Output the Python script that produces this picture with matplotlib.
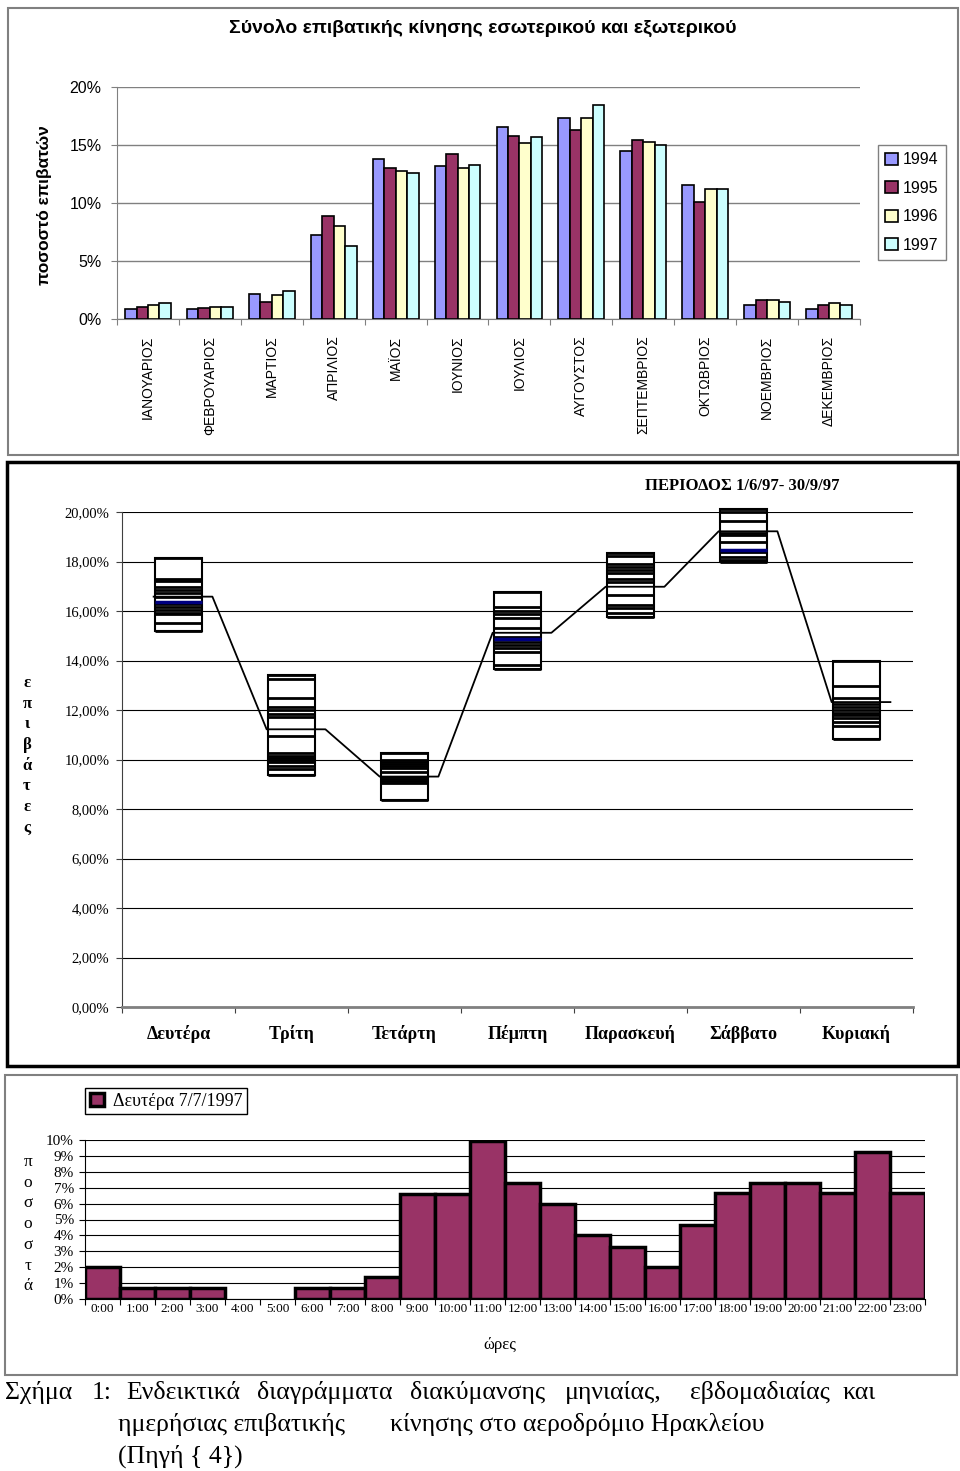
import numpy as np
import matplotlib.pyplot as plt
from matplotlib.patches import Rectangle

SANS = 'Liberation Sans'
SERIF = 'Liberation Serif'
W, H = 960, 1471

# --- monthly share of passengers, 1994-1997 (%)
months = ['ΙΑΝΟΥΑΡΙΟΣ', 'ΦΕΒΡΟΥΑΡΙΟΣ', 'ΜΑΡΤΙΟΣ', 'ΑΠΡΙΛΙΟΣ', 'ΜΑΪΟΣ', 'ΙΟΥΝΙΟΣ',
          'ΙΟΥΛΙΟΣ', 'ΑΥΓΟΥΣΤΟΣ', 'ΣΕΠΤΕΜΒΡΙΟΣ', 'ΟΚΤΩΒΡΙΟΣ', 'ΝΟΕΜΒΡΙΟΣ', 'ΔΕΚΕΜΒΡΙΟΣ']
years = ['1994', '1995', '1996', '1997']
share_1994 = [0.83, 0.83, 2.13, 7.27, 13.82, 13.16, 16.58, 17.36, 14.48, 11.58, 1.21, 0.83]
share_1995 = [1.06, 0.95, 1.47, 8.85, 13.02, 14.20, 15.78, 16.32, 15.40, 10.11, 1.61, 1.21]
share_1996 = [1.21, 1.06, 2.10, 8.05, 12.79, 13.02, 15.14, 17.36, 15.26, 11.18, 1.61, 1.35]
share_1997 = [1.35, 1.06, 2.39, 6.32, 12.61, 13.28, 15.66, 18.42, 15.00, 11.18, 1.47, 1.21]
year_colors = ['#9999FF', '#993366', '#FFFFCC', '#CCFFFF']

# --- weekly share per weekday, period 1/6/97 - 30/9/97 (%)
days = ['Δευτέρα', 'Τρίτη', 'Τετάρτη', 'Πέμπτη', 'Παρασκευή', 'Σάββατο', 'Κυριακή']
day_mean = [16.58, 11.22, 9.31, 15.12, 16.98, 19.22, 12.32]
week_mon = [18.13, 17.28, 17.21, 16.98, 16.85, 16.71, 16.55, 16.36, 16.28, 16.15,
            16.04, 15.90, 15.87, 15.50, 15.20]
week_tue = [13.41, 13.25, 12.47, 12.13, 12.00, 11.84, 11.73, 10.95, 10.25, 10.15,
            10.07, 9.98, 9.91, 9.74, 9.60, 9.37]
week_wed = [10.26, 10.00, 9.91, 9.82, 9.74, 9.64, 9.51, 9.28, 9.20, 9.12, 9.04, 8.36]
week_thu = [16.76, 16.15, 16.01, 15.88, 15.70, 15.30, 14.96, 14.87, 14.76, 14.63,
            14.49, 14.33, 13.82, 13.66]
week_fri = [18.36, 18.24, 17.90, 17.76, 17.66, 17.55, 17.28, 17.18, 16.65, 16.24,
            16.11, 15.90, 15.76]
week_sat = [20.11, 20.01, 19.65, 19.16, 19.07, 18.80, 18.46, 18.40, 18.19, 18.06, 17.98]
week_sun = [13.98, 12.97, 12.47, 12.23, 12.11, 12.00, 11.89, 11.80, 11.66, 11.53,
            11.35, 10.82]
weekly = [week_mon, week_tue, week_wed, week_thu, week_fri, week_sat, week_sun]
marked_days = [0, 3, 5]
marked_values = [16.36, 14.87, 18.46]

# --- hourly share, Monday 7/7/1997 (%)
hours = ['0:00', '1:00', '2:00', '3:00', '4:00', '5:00', '6:00', '7:00', '8:00', '9:00',
         '10:00', '11:00', '12:00', '13:00', '14:00', '15:00', '16:00', '17:00', '18:00',
         '19:00', '20:00', '21:00', '22:00', '23:00']
hour_share = [2.0, 0.69, 0.69, 0.69, 0, 0, 0.69, 0.69, 1.4, 6.6, 6.6, 9.93, 7.27, 5.97,
              4.03, 3.29, 2.03, 4.65, 6.65, 7.27, 7.27, 6.65, 9.27, 6.65]


def box(x0, y0, x1, y1):
    # pixel box (top-left origin) -> figure fraction rect
    return [x0 / W, 1 - y1 / H, (x1 - x0) / W, (y1 - y0) / H]


def fx(x):
    return x / W


def fy(y):
    return 1 - y / H


def frame(x0, y0, x1, y1, color, lw):
    fig.add_artist(Rectangle((fx(x0), fy(y1)), (x1 - x0) / W, (y1 - y0) / H,
                             transform=fig.transFigure, fill=False,
                             edgecolor=color, linewidth=lw))


fig = plt.figure(figsize=(W / 100, H / 100), dpi=100)
fig.patch.set_facecolor('white')

# ---------------- top chart: monthly ----------------
frame(8, 8, 958, 455, '#808080', 1.5)
ax1 = fig.add_axes(box(117, 87, 860, 319))
x = np.arange(len(months))
bw = 0.185
series = [share_1994, share_1995, share_1996, share_1997]
for k, (vals, col, yr) in enumerate(zip(series, year_colors, years)):
    ax1.bar(x + (k - 1.5) * bw, vals, bw, color=col, edgecolor='black',
            linewidth=1.2, label=yr, zorder=3)
ax1.set_xlim(-0.5, 11.5)
ax1.set_ylim(0, 20)
ax1.set_yticks([0, 5, 10, 15, 20])
ax1.set_yticklabels(['0%', '5%', '10%', '15%', '20%'], fontsize=11.5, family=SANS)
ax1.yaxis.grid(True, color='#808080', linewidth=1)
ax1.set_axisbelow(True)
for s in ['top', 'right']:
    ax1.spines[s].set_visible(False)
ax1.spines['left'].set_color('#808080')
ax1.spines['bottom'].set_color('#808080')
ax1.tick_params(axis='y', color='#808080', labelcolor='black', length=4, pad=7)
ax1.set_xticks(np.arange(-0.5, 12, 1))
ax1.set_xticklabels([])
ax1.tick_params(axis='x', which='major', length=4, color='#808080')
ax1.set_xticks(x, minor=True)
ax1.set_xticklabels(months, minor=True, rotation=90, fontsize=10, family=SANS, va='top')
ax1.tick_params(axis='x', which='minor', length=0, pad=12)
ax1.legend(loc='upper left', bbox_to_anchor=(fx(878), fy(145)),
           bbox_transform=fig.transFigure, fancybox=False, edgecolor='#808080',
           framealpha=1, borderaxespad=0, prop={'family': SANS, 'size': 11.5},
           handlelength=0.8, handleheight=0.8, handletextpad=0.3,
           labelspacing=0.85, borderpad=0.45)
fig.text(fx(483), fy(28), 'Σύνολο επιβατικής κίνησης εσωτερικού και εξωτερικού',
         ha='center', va='center', fontsize=14, weight='bold', family=SANS)
fig.text(fx(45), fy(205), 'ποσοστό επιβατών', rotation=90, ha='center', va='center',
         fontsize=12.5, weight='bold', family=SANS)

# ---------------- middle chart: weekdays ----------------
frame(7, 462, 958, 1066, 'black', 2.5)
ax2 = fig.add_axes(box(122, 512, 913, 1007))
xd = np.arange(len(days))
lows = np.array([min(w) for w in weekly])
highs = np.array([max(w) for w in weekly])
ax2.bar(xd, highs - lows, bottom=lows, width=0.41, color='white',
        edgecolor='black', linewidth=1.5, zorder=3, clip_on=False)
for i, w in enumerate(weekly):
    ax2.hlines(w, i - 0.205, i + 0.205, color='black', linewidth=2, zorder=4,
               clip_on=False)
ax2.hlines(marked_values, np.array(marked_days) - 0.205, np.array(marked_days) + 0.205,
           color='#000080', linewidth=2.5, zorder=5)
xs = np.ravel([[i - 0.22, i + 0.30] for i in xd])
ys = np.repeat(day_mean, 2)
ax2.plot(xs, ys, color='black', linewidth=1.3, zorder=6)
ax2.set_xlim(-0.5, 6.5)
ax2.set_ylim(0, 20)
yt = np.arange(0, 21, 2)
ax2.set_yticks(yt)
ax2.set_yticklabels([f'{v:.2f}%'.replace('.', ',') for v in yt], fontsize=10.5, family=SERIF)
ax2.yaxis.grid(True, color='black', linewidth=0.8)
ax2.set_axisbelow(True)
for s in ['top', 'right']:
    ax2.spines[s].set_visible(False)
ax2.spines['left'].set_color('#404040')
ax2.spines['bottom'].set_color('#808080')
ax2.spines['bottom'].set_linewidth(2)
ax2.tick_params(axis='y', length=4, pad=5, color='#404040')
ax2.set_xticks(np.arange(-0.5, 7, 1))
ax2.set_xticklabels([])
ax2.tick_params(axis='x', which='major', length=4, color='#404040')
ax2.set_xticks(xd, minor=True)
ax2.set_xticklabels(days, minor=True, fontsize=13, weight='bold', family=SERIF)
ax2.tick_params(axis='x', which='minor', length=0, pad=13)
fig.text(fx(742), fy(486), 'ΠΕΡΙΟΔΟΣ 1/6/97- 30/9/97', ha='center', va='center',
         fontsize=12, weight='bold', family=SERIF)
for i, ch in enumerate('επιβάτες'):
    fig.text(fx(27), fy(683 + i * 20.7), ch, ha='center', va='center',
             fontsize=12, weight='bold', family=SERIF)

# ---------------- bottom chart: hourly ----------------
frame(5, 1075, 957, 1375, '#808080', 1.5)
ax3 = fig.add_axes(box(85, 1140, 925, 1299))
xh = np.arange(len(hours))
bars = ax3.bar(xh, hour_share, width=1.0, color='#993366', edgecolor='black',
               linewidth=2.5, zorder=3, label='Δευτέρα 7/7/1997')
for b, v in zip(bars, hour_share):
    if v == 0:
        b.set_linewidth(0)
ax3.set_xlim(-0.5, 23.5)
ax3.set_ylim(0, 10)
ax3.set_yticks(range(11))
ax3.set_yticklabels([f'{v}%' for v in range(11)], fontsize=11, family=SERIF)
ax3.yaxis.grid(True, color='black', linewidth=0.8)
ax3.set_axisbelow(True)
for s in ['top', 'right']:
    ax3.spines[s].set_visible(False)
ax3.tick_params(axis='y', length=4, pad=4)
ax3.set_xticks(np.arange(-0.5, 24, 1))
ax3.set_xticklabels([])
ax3.tick_params(axis='x', which='major', length=4)
ax3.set_xticks(xh, minor=True)
ax3.set_xticklabels(hours, minor=True, fontsize=9.5, family=SERIF)
ax3.tick_params(axis='x', which='minor', length=0, pad=3)
ax3.legend(loc='upper left', bbox_to_anchor=(fx(85), fy(1088)),
           bbox_transform=fig.transFigure, fancybox=False, edgecolor='black',
           framealpha=1, borderaxespad=0, prop={'family': SERIF, 'size': 13},
           handlelength=0.8, handleheight=0.8, handletextpad=0.5, borderpad=0.25)
for i, ch in enumerate('ποσοστά'):
    fig.text(fx(28), fy(1162 + i * 20.7), ch, ha='center', va='center',
             fontsize=12.5, family=SERIF)
fig.text(fx(500), fy(1345), 'ώρες', ha='center', va='center', fontsize=12, family=SERIF)

# ---------------- caption ----------------
line1 = [('Σχήμα', 5), ('1:', 92), ('Ενδεικτικά', 126), ('διαγράμματα', 257),
         ('διακύμανσης', 410), ('μηνιαίας,', 565), ('εβδομαδιαίας', 690)]
for word, xp in line1:
    fig.text(fx(xp), fy(1393), word, ha='left', va='center', fontsize=18.5, family=SERIF)
fig.text(fx(876), fy(1393), 'και', ha='right', va='center', fontsize=18.5, family=SERIF)
fig.text(fx(118), fy(1425), 'ημερήσιας επιβατικής', ha='left', va='center',
         fontsize=18.5, family=SERIF)
fig.text(fx(390), fy(1425), 'κίνησης στο αεροδρόμιο Ηρακλείου', ha='left', va='center',
         fontsize=18.5, family=SERIF)
fig.text(fx(118), fy(1456), '(Πηγή { 4})', ha='left', va='center', fontsize=18.5, family=SERIF)

fig.savefig('out.png', dpi=100)
